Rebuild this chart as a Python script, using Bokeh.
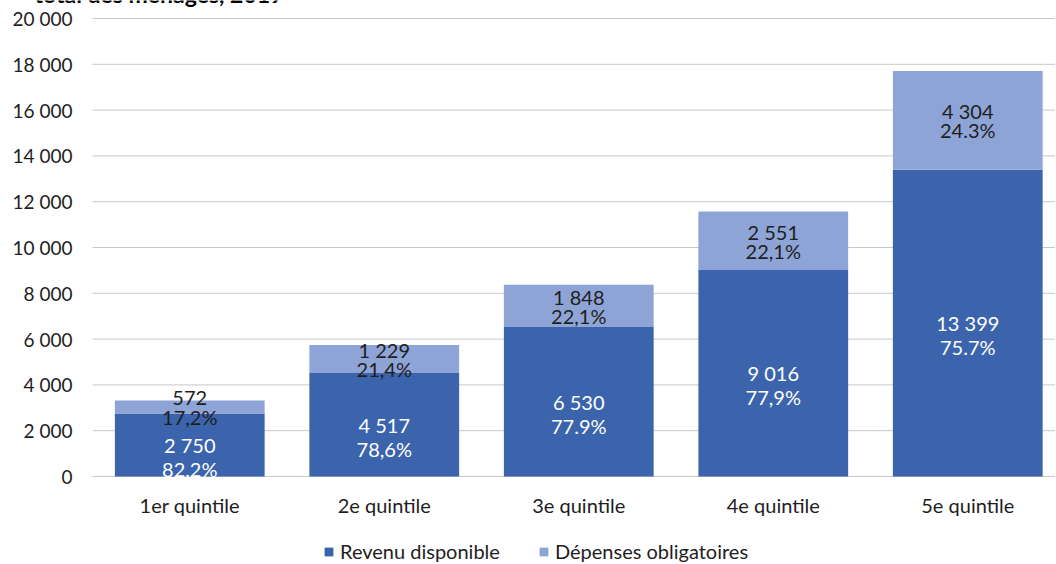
from bokeh.plotting import figure
from bokeh.models import Range1d, Legend, LegendItem, ColumnDataSource
from bokeh.core.properties import value
from bokeh.embed import file_html
from bokeh.resources import INLINE

title_text = "total des ménages, 2019"
categories = ["1er quintile", "2e quintile", "3e quintile", "4e quintile", "5e quintile"]
revenu = [2750, 4517, 6530, 9016, 13399]
depenses = [572, 1229, 1848, 2551, 4304]
revenu_labels = ["2 750", "4 517", "6 530", "9 016", "13 399"]
revenu_pct = ["82,2%", "78,6%", "77.9%", "77,9%", "75.7%"]
depenses_labels = ["572", "1 229", "1 848", "2 551", "4 304"]
depenses_pct = ["17,2%", "21,4%", "22,1%", "22,1%", "24.3%"]
y_ticks = [0, 2000, 4000, 6000, 8000, 10000, 12000, 14000, 16000, 18000, 20000]
y_tick_labels = ["0", "2 000", "4 000", "6 000", "8 000", "10 000", "12 000",
                 "14 000", "16 000", "18 000", "20 000"]

DARK = "#3B64AD"
LIGHT = "#8FA4D6"
FONT = "Lato"
TXT = "#1E1E1E"

X0, X1 = -0.973, 4.451   # visible x range (frame fills the canvas)
AX_LEFT = -0.5           # left edge of the plotting area

xs = list(range(len(categories)))
tops = [r + d for r, d in zip(revenu, depenses)]
src = ColumnDataSource(dict(
    x=xs, rev=revenu, top=tops, zero=[0] * len(xs), cat=categories,
    rev_mid=[r / 2 for r in revenu],
    dep_mid=[r + d / 2 for r, d in zip(revenu, depenses)],
    rl=revenu_labels, rp=revenu_pct, dl=depenses_labels, dp=depenses_pct,
))
tick_src = ColumnDataSource(dict(
    y=y_ticks, lab=y_tick_labels,
    x0=[AX_LEFT] * len(y_ticks), x1=[X1 + 1] * len(y_ticks),
))

p = figure(width=1055, height=563, output_backend="svg", toolbar_location=None,
           x_range=Range1d(X0, X1), y_range=Range1d(-3799, 20786),
           min_border_left=0, min_border_right=0, min_border_top=0,
           min_border_bottom=0)
p.outline_line_color = None
p.background_fill_color = "white"
p.xaxis.visible = False
p.yaxis.visible = False
p.xgrid.grid_line_color = None
p.ygrid.grid_line_color = None

# gridlines (grey) and baseline
p.segment(x0="x0", x1="x1", y0="y", y1="y", source=tick_src,
          line_color="#C8C8C8", line_width=1)

r1 = p.vbar(x="x", bottom=0, top="rev", width=0.77, source=src,
            fill_color=DARK, line_color=None)
r2 = p.vbar(x="x", bottom="rev", top="top", width=0.77, source=src,
            fill_color=LIGHT, line_color=None)

# y tick labels
p.text(x="x0", y="y", text="lab", source=tick_src, text_color=TXT,
       text_font=value(FONT), text_font_size="19px", text_align="right",
       text_baseline="middle", x_offset=-20)

p.text(x="x", y="rev_mid", text="rl", source=src, text_color="white",
       text_font=value(FONT), text_font_size="20px", text_align="center",
       text_baseline="middle", y_offset=0)
p.text(x="x", y="rev_mid", text="rp", source=src, text_color="white",
       text_font=value(FONT), text_font_size="20px", text_align="center",
       text_baseline="middle", y_offset=24)
p.text(x="x", y="dep_mid", text="dl", source=src, text_color=TXT,
       text_font=value(FONT), text_font_size="20px", text_align="center",
       text_baseline="middle", y_offset=-9)
p.text(x="x", y="dep_mid", text="dp", source=src, text_color=TXT,
       text_font=value(FONT), text_font_size="20px", text_align="center",
       text_baseline="middle", y_offset=10)

# category labels under the baseline
p.text(x="x", y="zero", text="cat", source=src, text_color=TXT,
       text_font=value(FONT), text_font_size="20px", text_align="center",
       text_baseline="middle", y_offset=28)

# title, cut at the top edge as in the reference
p.text(x=[-0.798], y=[21050], text=[title_text], text_color="#000000",
       text_font=value(FONT), text_font_size="23px", text_font_style="bold",
       text_align="left", text_baseline="alphabetic")

legend = Legend(items=[LegendItem(label="Revenu disponible", renderers=[r1]),
                       LegendItem(label="Dépenses obligatoires", renderers=[r2])],
                orientation="horizontal", location=(323, 0),
                label_text_font=FONT, label_text_font_size="20px",
                label_text_color=TXT, glyph_width=11, glyph_height=11,
                spacing=38, label_standoff=6, border_line_color=None,
                background_fill_alpha=0, padding=2, margin=0)
p.add_layout(legend, "center")

open("out.html", "w").write(file_html(p, INLINE))
